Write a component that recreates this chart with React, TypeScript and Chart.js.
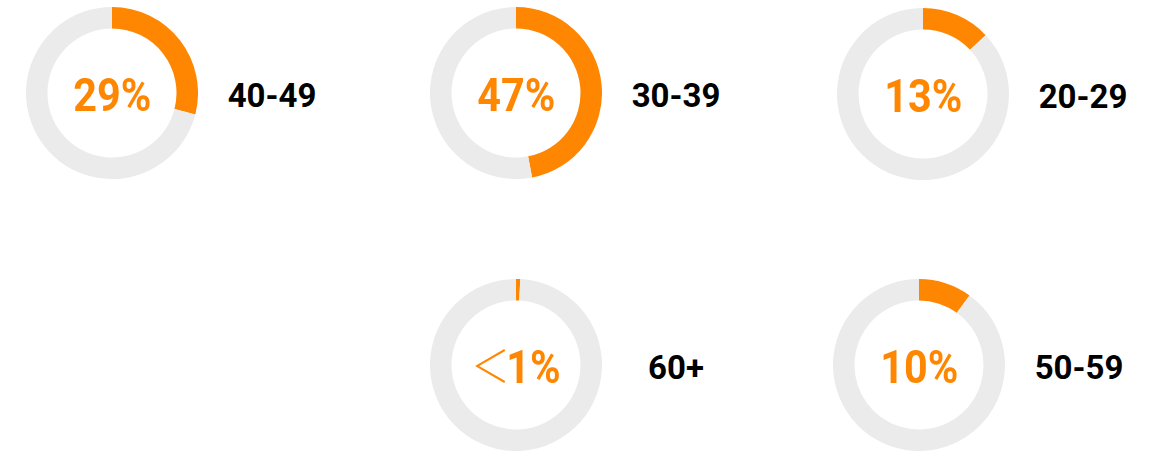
import React, { useEffect, useRef } from "react";
import { Chart, registerables } from "chart.js";

Chart.register(...registerables);

// ---- data ----
const categories: string[] = ["40-49", "30-39", "20-29", "60+", "50-59"];
const shares: number[] = [29, 47, 13, 0.8, 10];
const shareLabels: string[] = ["29%", "47%", "13%", "＜1%", "10%"];

// ---- layout / style ----
const centersX = [112, 516, 923, 516, 919];
const centersY = [93, 93, 94, 365, 365];
const SIZE = 172;
const ORANGE = "#FF8600";
const GRAY = "#EBEBEB";

function Donut({ idx }: { idx: number }) {
  const ref = useRef<HTMLCanvasElement | null>(null);
  useEffect(() => {
    if (!ref.current) return;
    const chart = new Chart(ref.current, {
      type: "doughnut",
      data: {
        labels: [categories[idx], "other"],
        datasets: [
          {
            data: [shares[idx], 100 - shares[idx]],
            backgroundColor: [ORANGE, GRAY],
            borderWidth: 0,
          },
        ],
      },
      options: {
        responsive: false,
        animation: false,
        cutout: "75%",
        events: [],
        layout: { padding: 0 },
        plugins: { legend: { display: false }, tooltip: { enabled: false } },
      },
    });
    return () => chart.destroy();
  }, [idx]);

  const cx = centersX[idx];
  const cy = centersY[idx];
  const lbl = shareLabels[idx];
  const hasLt = lbl.startsWith("＜");
  return (
    <>
      <div
        style={{
          position: "absolute",
          left: cx - SIZE / 2,
          top: cy - SIZE / 2,
          width: SIZE,
          height: SIZE,
        }}
      >
        <canvas ref={ref} width={SIZE} height={SIZE} style={{ display: "block" }} />
        <div
          style={{
            position: "absolute",
            left: 0,
            top: 0,
            width: SIZE,
            height: SIZE,
            display: "flex",
            alignItems: "center",
            justifyContent: "center",
            fontFamily: 'Roboto, "Noto Sans CJK SC", sans-serif',
            fontWeight: 700,
            fontSize: 47,
            lineHeight: 1,
            color: ORANGE,
            paddingTop: 2,
            boxSizing: "border-box",
          }}
        >
          <span style={{ display: "inline-block", transform: "scaleX(0.88)", whiteSpace: "nowrap" }}>
            {hasLt ? (
              <>
                <span style={{ fontWeight: 300, fontSize: 44, marginRight: -4 }}>＜</span>
                {lbl.slice(1)}
              </>
            ) : (
              lbl
            )}
          </span>
        </div>
      </div>
      <div
        style={{
          position: "absolute",
          left: cx + 160,
          top: cy + 2,
          transform: "translate(-50%, -50%)",
          fontFamily: "Roboto, sans-serif",
          fontWeight: 700,
          fontSize: 33,
          lineHeight: 1,
          color: "#000",
          whiteSpace: "nowrap",
        }}
      >
        {categories[idx]}
      </div>
    </>
  );
}

export default function App() {
  return (
    <div
      style={{
        position: "absolute",
        left: 0,
        top: 0,
        width: 1160,
        height: 453,
        background: "#fff",
        overflow: "hidden",
      }}
    >
      {categories.map((_, i) => (
        <Donut key={i} idx={i} />
      ))}
    </div>
  );
}
